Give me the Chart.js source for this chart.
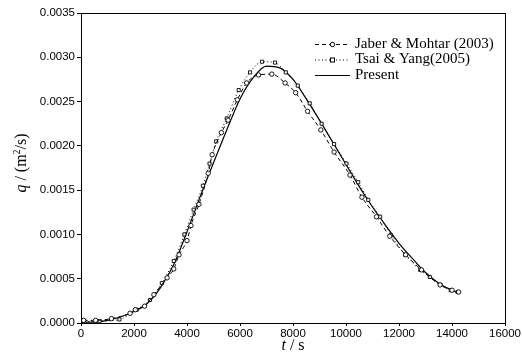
<!DOCTYPE html>
<html>
<head>
<meta charset="utf-8">
<script src="https://cdn.jsdelivr.net/npm/chart.js@4/dist/chart.umd.min.js"></script>
<style>
    html, body { margin: 0; padding: 0; background: #fff; }
    canvas { display: block; }
</style>
</head>
<body>
<canvas id="grafica" width="522" height="354"></canvas>
<script>
// Datos
const presentT = [0, 500, 1000, 1500, 2000, 2500, 3000, 3500, 4000, 4500, 5000, 5500, 6000, 6500, 7000, 7500, 8000, 8500, 9000, 9500, 10000, 10500, 11000, 11500, 12000, 12500, 13000, 13500, 14000, 14300];
const presentQ = [0.00001, 0.00001, 0.00003, 0.00007, 0.00013, 0.00022, 0.00040, 0.00066, 0.00103, 0.00143, 0.00181, 0.00218, 0.00253, 0.00277, 0.00290, 0.00288, 0.00275, 0.00253, 0.00229, 0.00204, 0.00179, 0.00154, 0.00131, 0.00110, 0.00090, 0.00073, 0.00057, 0.00045, 0.00037, 0.00033];

const jaberT = [100, 550, 1150, 1850, 2050, 2400, 2750, 3250, 3500, 3700, 4000, 4150, 4450, 4800, 4950, 5300, 5550, 5900, 6250, 6700, 7200, 7700, 8100, 8550, 9050, 9550, 10150, 10600, 11150, 11650, 12250, 12850, 13550, 14000, 14250];
const jaberQ = [0.00003, 0.00003, 0.00005, 0.00011, 0.00015, 0.00019, 0.00032, 0.00051, 0.00061, 0.00077, 0.00093, 0.00110, 0.00134, 0.00169, 0.00190, 0.00215, 0.00229, 0.00252, 0.00271, 0.00280, 0.00281, 0.00271, 0.00260, 0.00239, 0.00218, 0.00193, 0.00167, 0.00142, 0.00120, 0.00098, 0.00077, 0.00060, 0.00043, 0.00037, 0.00035];

const tsaiT = [0, 700, 1450, 2100, 2600, 3050, 3500, 3900, 4250, 4600, 4850, 5100, 5500, 5950, 6380, 6830, 7320, 7730, 8180, 8630, 9080, 9550, 10020, 10460, 10840, 11290, 11700, 12230, 12800, 13160, 13570, 13950, 14210];
const tsaiQ = [0.00001, 0.00002, 0.00004, 0.00015, 0.00026, 0.00045, 0.00070, 0.00100, 0.00128, 0.00155, 0.00180, 0.00205, 0.00231, 0.00263, 0.00283, 0.00295, 0.00294, 0.00283, 0.00268, 0.00248, 0.00225, 0.00202, 0.00180, 0.00159, 0.00139, 0.00120, 0.00099, 0.00077, 0.00060, 0.00052, 0.00043, 0.00037, 0.00035];

const xTicks = [0, 2000, 4000, 6000, 8000, 10000, 12000, 14000, 16000];
const yTicks = [0, 0.0005, 0.0010, 0.0015, 0.0020, 0.0025, 0.0030, 0.0035];

const etiquetas = ['Jaber & Mohtar (2003)', 'Tsai & Yang(2005)', 'Present'];

function puntos(xs, ys) {
    return xs.map((x, i) => ({ x: x, y: ys[i] }));
}

const serif = '"Liberation Serif", "Times New Roman", serif';
const sans = '"Liberation Sans", Arial, sans-serif';

// Plugin: marco, títulos de ejes y leyenda dentro del área
const marcoPlugin = {
    id: 'marco',
    afterDraw: (chart) => {
        const ctx = chart.ctx;
        const a = chart.chartArea;
        ctx.save();
        ctx.strokeStyle = '#000';
        ctx.lineWidth = 1;
        ctx.strokeRect(Math.round(a.left) + 0.5, Math.round(a.top) + 0.5, Math.round(a.right - a.left), Math.round(a.bottom - a.top));

        ctx.fillStyle = '#000';
        ctx.textBaseline = 'middle';

        // Título eje x: t / s
        ctx.font = 'italic 16px ' + serif;
        const wt = ctx.measureText('t').width;
        ctx.font = '16px ' + serif;
        const ws = ctx.measureText(' / s').width;
        let x0 = 293 - (wt + ws) / 2;
        ctx.textAlign = 'left';
        ctx.font = 'italic 16px ' + serif;
        ctx.fillText('t', x0, 346);
        ctx.font = '16px ' + serif;
        ctx.fillText(' / s', x0 + wt, 346);

        // Título eje y: q / (m2/s)
        ctx.save();
        ctx.translate(22, 163);
        ctx.rotate(-Math.PI / 2);
        ctx.font = 'italic 16px ' + serif;
        const wq = ctx.measureText('q').width;
        ctx.font = '16px ' + serif;
        const w1 = ctx.measureText(' / (m').width;
        ctx.font = '10px ' + serif;
        const w2 = ctx.measureText('2').width;
        ctx.font = '16px ' + serif;
        const w3 = ctx.measureText('/s)').width;
        let px = -(wq + w1 + w2 + w3) / 2;
        ctx.font = 'italic 16px ' + serif;
        ctx.fillText('q', px, 0);
        px += wq;
        ctx.font = '16px ' + serif;
        ctx.fillText(' / (m', px, 0);
        px += w1;
        ctx.font = '10px ' + serif;
        ctx.fillText('2', px, -5);
        px += w2;
        ctx.font = '16px ' + serif;
        ctx.fillText('/s)', px, 0);
        ctx.restore();

        // Leyenda
        const filas = [44, 59.5, 75];
        const lx1 = 315, lx2 = 350;
        ctx.font = '15px ' + serif;
        chart.data.datasets.forEach((ds, i) => {
            const y = filas[i];
            ctx.save();
            ctx.strokeStyle = '#000';
            ctx.lineWidth = ds.borderWidth;
            ctx.setLineDash(ds.borderDash || []);
            ctx.beginPath();
            ctx.moveTo(lx1, y + 0.5);
            ctx.lineTo(lx2, y + 0.5);
            ctx.stroke();
            ctx.setLineDash([]);
            const cx = (lx1 + lx2) / 2;
            if (ds.pointStyle === 'circle') {
                ctx.fillStyle = '#fff';
                ctx.beginPath();
                ctx.arc(cx, y + 0.5, 2.2, 0, Math.PI * 2);
                ctx.fill();
                ctx.stroke();
            } else if (ds.pointStyle === 'rect') {
                ctx.fillStyle = '#fff';
                ctx.fillRect(cx - 2, y - 1.5, 4, 4);
                ctx.strokeRect(cx - 2, y - 1.5, 4, 4);
            }
            ctx.restore();
            ctx.fillText(etiquetas[i], 355, y);
        });
        ctx.restore();
    }
};

document.addEventListener('DOMContentLoaded', function() {
    const ctx = document.getElementById('grafica').getContext('2d');
    new Chart(ctx, {
        type: 'line',
        data: {
            datasets: [{
                label: etiquetas[0],
                data: puntos(jaberT, jaberQ),
                borderColor: '#000',
                borderWidth: 1,
                borderDash: [4, 3],
                pointStyle: 'circle',
                pointRadius: 2.2,
                pointBorderWidth: 0.9,
                pointBackgroundColor: '#fff',
                pointBorderColor: '#000',
                cubicInterpolationMode: 'monotone',
                fill: false
            }, {
                label: etiquetas[1],
                data: puntos(tsaiT, tsaiQ),
                borderColor: '#000',
                borderWidth: 1,
                borderDash: [1, 2.5],
                pointStyle: 'rect',
                pointRadius: 2.2,
                pointBorderWidth: 0.9,
                pointBackgroundColor: '#fff',
                pointBorderColor: '#000',
                cubicInterpolationMode: 'monotone',
                fill: false
            }, {
                label: etiquetas[2],
                data: puntos(presentT, presentQ),
                borderColor: '#000',
                borderWidth: 1.2,
                pointRadius: 0,
                cubicInterpolationMode: 'monotone',
                fill: false
            }]
        },
        options: {
            responsive: false,
            animation: false,
            layout: { padding: { left: 0, right: 15, top: 13, bottom: 0 } },
            plugins: {
                legend: { display: false },
                tooltip: { enabled: false }
            },
            scales: {
                x: {
                    type: 'linear',
                    min: 0,
                    max: 16000,
                    afterBuildTicks: (scale) => { scale.ticks = xTicks.map(v => ({ value: v })); },
                    afterFit: (scale) => { scale.height = 31; },
                    grid: { drawOnChartArea: false, drawTicks: true, tickLength: 3, color: '#000' },
                    border: { display: true, color: '#000', width: 1 },
                    ticks: {
                        color: '#000',
                        font: { family: sans, size: 11.5 },
                        padding: 1,
                        maxRotation: 0,
                        callback: (v) => String(v)
                    }
                },
                y: {
                    type: 'linear',
                    min: 0,
                    max: 0.0035,
                    afterBuildTicks: (scale) => { scale.ticks = yTicks.map(v => ({ value: v })); },
                    afterFit: (scale) => { scale.width = 81; },
                    grid: { drawOnChartArea: false, drawTicks: true, tickLength: 4, color: '#000' },
                    border: { display: true, color: '#000', width: 1 },
                    ticks: {
                        color: '#000',
                        font: { family: sans, size: 11.5 },
                        padding: 2,
                        callback: (v) => Number(v).toFixed(4)
                    }
                }
            }
        },
        plugins: [marcoPlugin]
    });
});
</script>
</body>
</html>
